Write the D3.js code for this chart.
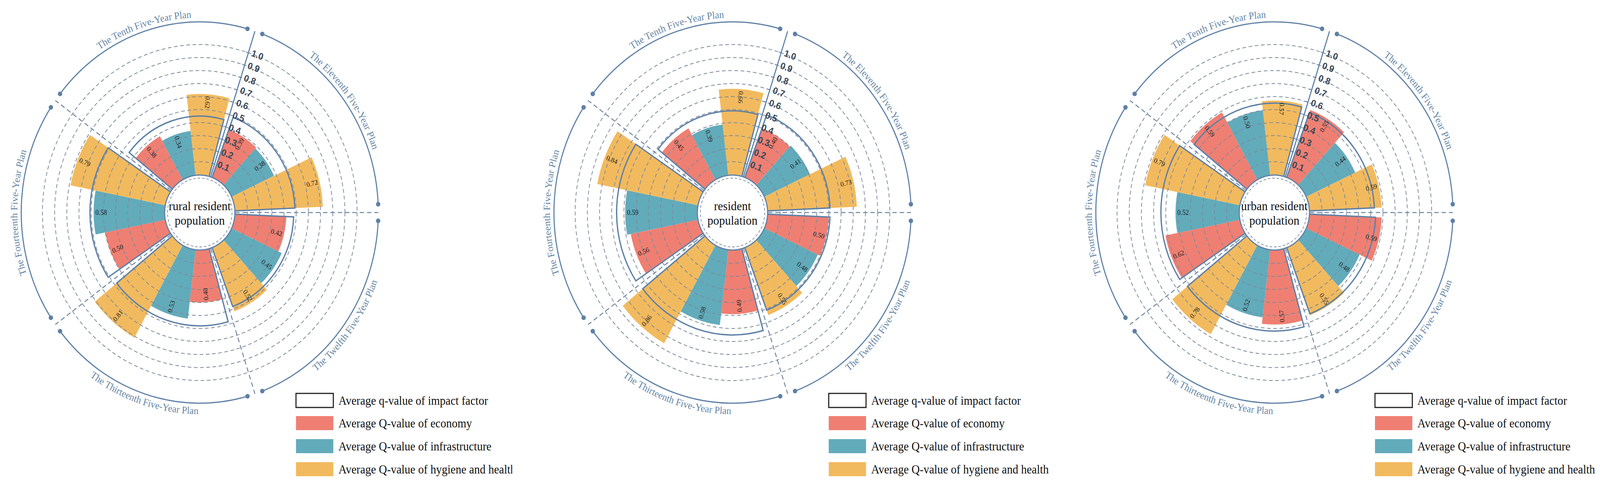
<!DOCTYPE html>
<html>
<head>
<meta charset="utf-8">
<script src="https://cdn.jsdelivr.net/npm/d3@7"></script>
<style>
  html, body { margin: 0; padding: 0; background: #fff; overflow: hidden; }
  svg { display: block; width: 100vw; height: 100vh; }
  text { font-family: "Liberation Serif", "Times New Roman", serif; }
</style>
</head>
<body>
<svg id="chart" viewBox="0 0 4373 1244" preserveAspectRatio="none"></svg>
<script>
// ---- data ----
const plans = ["The Tenth Five-Year Plan", "The Eleventh Five-Year Plan", "The Twelfth Five-Year Plan",
               "The Thirteenth Five-Year Plan", "The Fourteenth Five-Year Plan"];
const factors = ["economy", "infrastructure", "hygiene"];
const legendLabels = ["Average q-value of impact factor", "Average Q-value of economy",
                      "Average Q-value of infrastructure", "Average Q-value of hygiene and health"];
const centerLabels = [["rural resident", "population"], ["resident", "population"], ["urban resident", "population"]];
const ticks = [0.1, 0.2, 0.3, 0.4, 0.5, 0.6, 0.7, 0.8, 0.9, 1.0];

const ruralEconomy = [0.38, 0.39, 0.42, 0.40, 0.50];
const ruralInfrastructure = [0.34, 0.38, 0.45, 0.53, 0.58];
const ruralHygiene = [0.62, 0.72, 0.52, 0.81, 0.79];
const ruralQ = [0.45, 0.49, 0.48, 0.58, 0.61];

const residentEconomy = [0.45, 0.40, 0.50, 0.49, 0.56];
const residentInfrastructure = [0.39, 0.41, 0.48, 0.58, 0.59];
const residentHygiene = [0.66, 0.73, 0.55, 0.86, 0.84];
const residentQ = [0.49, 0.51, 0.51, 0.65, 0.66];

const urbanEconomy = [0.59, 0.55, 0.59, 0.57, 0.62];
const urbanInfrastructure = [0.50, 0.44, 0.48, 0.52, 0.52];
const urbanHygiene = [0.57, 0.59, 0.55, 0.78, 0.79];
const urbanQ = [0.55, 0.53, 0.54, 0.62, 0.64];

const colors = { economy: "#ef7f72", infrastructure: "#62abbb", hygiene: "#f2ba5e" };
const lineColor = "#5e80a6";
const gridColor = "#7d8a9b";

const panels = [
  { label: centerLabels[0], economy: ruralEconomy, infrastructure: ruralInfrastructure, hygiene: ruralHygiene, q: ruralQ, cx: 546, legX: 809, clip: [0, 1400] },
  { label: centerLabels[1], economy: residentEconomy, infrastructure: residentInfrastructure, hygiene: residentHygiene, q: residentQ, cx: 2002, legX: 2265, clip: [1400, 2930] },
  { label: centerLabels[2], economy: urbanEconomy, infrastructure: urbanInfrastructure, hygiene: urbanHygiene, q: urbanQ, cx: 3483, legX: 3758, clip: [2930, 4373] }
];

const cy = 544;
const deg = Math.PI / 180;
const start = 306 * deg;       // left edge of the Tenth plan sector
const ringR = 488;

const r = d3.scaleLinear().domain([0, 1]).range([97, 430]);
const x = d3.scaleBand().domain(plans).range([start, start + 2 * Math.PI])
  .paddingInner(5 / 72).paddingOuter(2.5 / 72);
const x1 = d3.scaleBand().domain(factors).range([0, x.bandwidth()]);

const svg = d3.select("#chart");
const defs = svg.append("defs");

function sectorMid(plan) {
  return ((x(plan) + x.bandwidth() / 2) / deg) % 360;
}

panels.forEach((p, pi) => {
  defs.append("clipPath").attr("id", "clip" + pi)
    .append("rect").attr("x", p.clip[0]).attr("y", 0)
    .attr("width", p.clip[1] - p.clip[0]).attr("height", 1244);

  const outer = svg.append("g").attr("clip-path", `url(#clip${pi})`);
  const g = outer.append("g").attr("transform", `translate(${p.cx},${cy})`);

  const rows = plans.map((plan, i) => ({
    plan, q: p.q[i],
    bars: factors.map(f => ({ plan, f, v: p[f][i] }))
  }));
  const allBars = rows.flatMap(d => d.bars);

  // bars
  const barArc = d3.arc()
    .innerRadius(r(0))
    .outerRadius(d => r(d.v))
    .startAngle(d => x(d.plan) + x1(d.f))
    .endAngle(d => x(d.plan) + x1(d.f) + x1.bandwidth());
  g.selectAll(".bar").data(allBars).enter().append("path")
    .attr("d", barArc).attr("fill", d => colors[d.f]);

  // dashed grid circles
  g.selectAll(".grid").data(ticks).enter().append("circle")
    .attr("r", d => r(d)).attr("fill", "none")
    .attr("stroke", gridColor).attr("stroke-width", 2).attr("stroke-dasharray", "10,7");

  // dashed sector boundaries
  const bAngles = [2, 3, 4, 5].map(k => start + k * 2 * Math.PI / 5);
  g.selectAll(".bound").data(bAngles).enter().append("line")
    .attr("x1", a => r(0) * Math.sin(a)).attr("y1", a => -r(0) * Math.cos(a))
    .attr("x2", a => ringR * Math.sin(a)).attr("y2", a => -ringR * Math.cos(a))
    .attr("stroke", "#6d84a0").attr("stroke-width", 2.5).attr("stroke-dasharray", "12,8");

  // average q outlines
  const qArc = d3.arc()
    .innerRadius(r(0) - 2)
    .outerRadius(d => r(d.q))
    .startAngle(d => x(d.plan))
    .endAngle(d => x(d.plan) + x.bandwidth());
  g.selectAll(".qbox").data(rows).enter().append("path")
    .attr("d", qArc).attr("fill", "none")
    .attr("stroke", lineColor).attr("stroke-width", 3.5);

  // radial axis with tick labels
  const axA = start + 2 * Math.PI / 5;
  g.append("line")
    .attr("x1", r(0) * Math.sin(axA)).attr("y1", -r(0) * Math.cos(axA))
    .attr("x2", ringR * Math.sin(axA)).attr("y2", -ringR * Math.cos(axA))
    .attr("stroke", lineColor).attr("stroke-width", 3);
  const axis = g.append("g").attr("transform", `rotate(${axA / deg})`);
  axis.selectAll(".tick").data(ticks).enter().append("line")
    .attr("x1", -7).attr("x2", 0).attr("y1", d => -r(d)).attr("y2", d => -r(d))
    .attr("stroke", lineColor).attr("stroke-width", 2);
  g.selectAll(".ticklabel").data(ticks).enter().append("text")
    .attr("transform", d => `translate(${r(d) * Math.sin(axA) + 9},${-r(d) * Math.cos(axA)}) rotate(20)`)
    .attr("dominant-baseline", "central")
    .style("font-family", "'Liberation Sans', Arial, sans-serif")
    .style("font-weight", "bold").style("font-size", "24px").attr("fill", "#3a4858")
    .text(d => d.toFixed(1));

  // value labels
  g.selectAll(".vlabel").data(allBars).enter().append("text")
    .attr("transform", d => {
      const a = (x(d.plan) + x1(d.f) + x1.bandwidth() / 2) / deg;
      const mid = sectorMid(d.plan);
      const out = mid > 0 && mid < 180;
      return out ? `rotate(${a - 90}) translate(${r(d.v) - 5},0)`
                 : `rotate(${a + 90}) translate(${-(r(d.v) - 5)},0)`;
    })
    .attr("text-anchor", d => {
      const mid = sectorMid(d.plan);
      return (mid > 0 && mid < 180) ? "end" : "start";
    })
    .attr("dominant-baseline", "central")
    .style("font-size", "18px").attr("fill", "#1e1e1e")
    .text(d => d.v.toFixed(2));

  // centre circle
  g.append("circle").attr("r", 96).attr("fill", "#fff").attr("stroke", lineColor).attr("stroke-width", 3);
  g.append("circle").attr("r", 88).attr("fill", "none").attr("stroke", gridColor)
    .attr("stroke-width", 1.8).attr("stroke-dasharray", "7,5");
  g.append("text").attr("text-anchor", "middle").attr("y", -6)
    .style("font-size", "32px").attr("fill", "#111").text(p.label[0]);
  g.append("text").attr("text-anchor", "middle").attr("y", 31)
    .style("font-size", "32px").attr("fill", "#111").text(p.label[1]);

  // outer plan arcs with dots and curved titles
  const gap = 2.5 * deg;
  rows.forEach((d, i) => {
    const a0 = x(d.plan) - x.paddingOuter() * x.step() + gap;
    const a1 = a0 + x.step() - 2 * gap;
    const arcPath = d3.path();
    arcPath.arc(0, 0, ringR, a0 - Math.PI / 2, a1 - Math.PI / 2, false);
    g.append("path").attr("d", arcPath.toString()).attr("fill", "none")
      .attr("stroke", lineColor).attr("stroke-width", 3);
    [a0, a1].forEach(a => g.append("circle")
      .attr("cx", ringR * Math.sin(a)).attr("cy", -ringR * Math.cos(a))
      .attr("r", 6).attr("fill", lineColor));

    const mid = ((a0 + a1) / 2 / deg) % 360;
    const flip = mid > 90 && mid < 270;
    const tp = d3.path();
    if (flip) tp.arc(0, 0, ringR + 28, a1 - Math.PI / 2, a0 - Math.PI / 2, true);
    else tp.arc(0, 0, ringR + 11, a0 - Math.PI / 2, a1 - Math.PI / 2, false);
    const id = `tp${pi}_${i}`;
    defs.append("path").attr("id", id).attr("d", tp.toString());
    g.append("text").style("font-size", "26px").attr("fill", "#6585a5")
      .append("textPath").attr("href", "#" + id).attr("startOffset", "50%")
      .attr("text-anchor", "middle").text(d.plan);
  });

  // legend
  const legY = [1007, 1065, 1124, 1183];
  const legFill = ["#fff", colors.economy, colors.infrastructure, colors.hygiene];
  legendLabels.forEach((lab, i) => {
    outer.append("rect").attr("x", p.legX).attr("y", legY[i]).attr("width", 102).attr("height", 36)
      .attr("fill", legFill[i])
      .attr("stroke", i === 0 ? "#222" : "none").attr("stroke-width", 3);
    outer.append("text").attr("x", p.legX + 116).attr("y", legY[i] + 18)
      .attr("dominant-baseline", "central").style("font-size", "31px").attr("fill", "#111")
      .text(lab);
  });
});
</script>
</body>
</html>
